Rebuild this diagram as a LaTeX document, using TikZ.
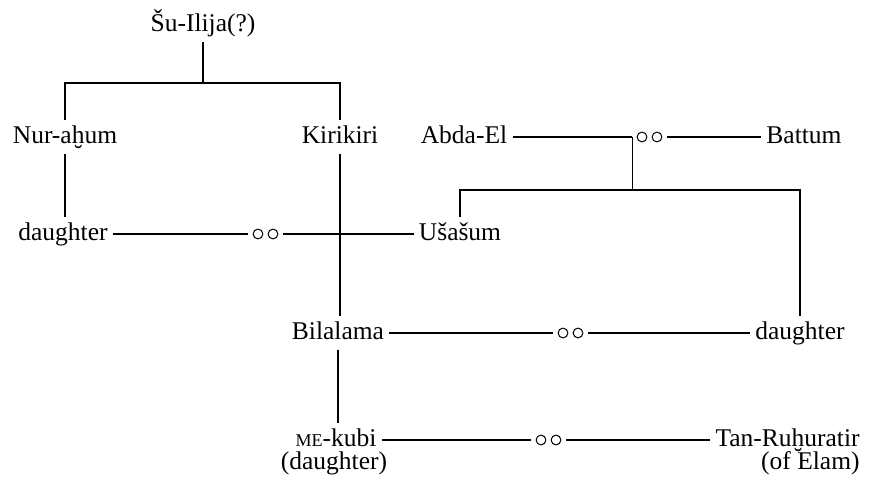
\documentclass[tikz,border=0pt]{standalone}
\usepackage{fontspec}
\setmainfont{Liberation Serif}
\newcommand{\smallcapsME}{{\fontsize{9}{10}\selectfont ME}}
\begin{document}
\begin{tikzpicture}[x=0.5pt,y=-0.5pt,
  every node/.style={font=\fontsize{12.75}{14}\selectfont},
  person/.style={inner xsep=2.5pt, inner ysep=2.5pt, text height=9pt, text depth=2.5pt},
  ring/.style={circle, draw, line width=0.5pt, minimum size=4.9pt, inner sep=0pt, outer sep=2.5pt},
  link/.style={line width=0.55pt}]
\useasboundingbox (0,0) rectangle (882,485);
% people
\node[person] (su) at (203,25) {Šu-Ilija(?)};
\node[person] (nur) at (65,137) {Nur-aḫum};
\node[person] (kir) at (340,137) {Kirikiri};
\node[person] (abd) at (464,137) {Abda-El};
\node[ring] (r1a) at (642,137) {};
\node[ring] (r1b) at (657,137) {};
\node[person] (bat) at (804,137) {Battum};
\node[person] (dl) at (63,234) {daughter};
\node[ring] (r2a) at (258,234) {};
\node[ring] (r2b) at (273,234) {};
\node[person] (us) at (460,234) {Ušašum};
\node[person] (bil) at (338,333) {Bilalama};
\node[ring] (r3a) at (563,333) {};
\node[ring] (r3b) at (578,333) {};
\node[person] (dr) at (800,333) {daughter};
\node[person] (me) at (336,440) {\smallcapsME-kubi};
\node[person] (med) at (334,463) {(daughter)};
\node[ring] (r4a) at (541,440) {};
\node[ring] (r4b) at (556,440) {};
\node[person, anchor=east] (tan) at (865,440) {Tan-Ruḫuratir};
\node[person, anchor=east] (elam) at (865,463) {(of Elam)};
% junctions
\coordinate (j1) at (203,83);
\coordinate (j2) at (632,190);
% descent lines
\draw[link] (su.south) -- (j1);
\draw[link] (nur.north) -- (nur.north |- j1) -- (kir.north |- j1) -- (kir.north);
\draw[link] (nur.south) -- (nur.south |- dl.north);
\draw[link] (kir.south) -- (kir.south |- bil.north);
\draw[link] (bil.south) -- (bil.south |- me.north);
\draw[link] (r1a.west) -- (r1a.west |- j2);
\draw[link] (us.north) -- (us.north |- j2) -- (dr.north |- j2) -- (dr.north);
% marriage lines
\draw[link] (abd) -- (r1a);
\draw[link] (r1b) -- (bat);
\draw[link] (dl) -- (r2a);
\draw[link] (r2b) -- (us);
\draw[link] (bil) -- (r3a);
\draw[link] (r3b) -- (dr);
\draw[link] (me) -- (r4a);
\draw[link] (r4b) -- (tan);
\end{tikzpicture}
\end{document}
